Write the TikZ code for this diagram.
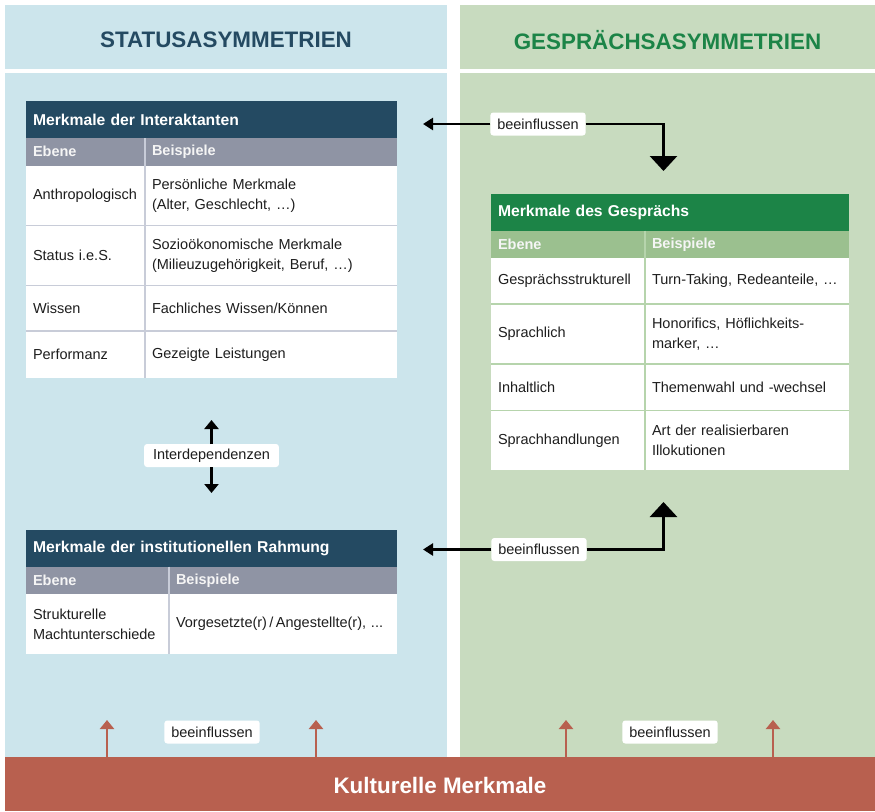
\documentclass[tikz,border=0pt]{standalone}
\usepackage{fontspec}
\setmainfont{Liberation Sans}
\usetikzlibrary{arrows.meta}
\definecolor{bluebg}{HTML}{CCE5EC}
\definecolor{greenbg}{HTML}{C8DBBF}
\definecolor{navy}{HTML}{244A62}
\definecolor{greyhdr}{HTML}{8F94A4}
\definecolor{darkgreen}{HTML}{1C8447}
\definecolor{greenhdr}{HTML}{9BC08F}
\definecolor{redbar}{HTML}{B8604F}
\definecolor{ink}{HTML}{1E1E1E}
\definecolor{sepgrey}{HTML}{C8CCD8}
\definecolor{sepgreen}{HTML}{B6D4AC}
\newcommand\fs{\fontsize{14.5}{20}\selectfont}
\newcommand\fst{\fontsize{15.7}{19}\selectfont}
\newcommand\fsh{\fontsize{22.4}{26}\selectfont}
\begin{document}
\begin{tikzpicture}[x=1pt,y=-1pt,
  every node/.style={inner sep=0pt, outer sep=0pt},
  bg/.style={anchor=north west, draw=none},
  cell/.style={anchor=north west, inner xsep=7pt, inner ysep=0pt, align=left, font=\fs, text=ink, fill=white},
  ttl/.style={cell, font=\fst\bfseries, text=white},
  hdr/.style={cell, font=\fs\bfseries, text=white!96!black},
  lbl/.style={fill=white, rounded corners=3pt, inner xsep=7pt, minimum height=23pt, font=\fs, text=ink},
  sepA/.style={draw=sepgrey, line width=1.5pt},
  sepB/.style={draw=sepgreen, line width=1.5pt},
  blk/.style={line width=2.8pt, draw=black, -{Triangle[width=12pt,length=10pt]}},
  blkbig/.style={line width=2.8pt, draw=black, -{Triangle[width=27pt,length=15pt]}},
  blkmid/.style={line width=2.8pt, draw=black, -{Triangle[width=14pt,length=9pt]}},
  redarr/.style={line width=2.5pt, draw=redbar, -{Triangle[width=14pt,length=9pt]}}
]
\useasboundingbox (0,0) rectangle (875,811);
\fill[white] (0,0) rectangle (875,811);
% backgrounds
\node[bg, fill=bluebg, minimum width=442pt, minimum height=64pt] (hL) at (5,5) {};
\node[bg, fill=greenbg, minimum width=415pt, minimum height=64pt] (hR) at (460,5) {};
\node[bg, fill=bluebg, minimum width=442pt, minimum height=684pt] (bL) at (5,73) {};
\node[bg, fill=greenbg, minimum width=415pt, minimum height=684pt] (bR) at (460,73) {};
\node[bg, fill=redbar, minimum width=870pt, minimum height=54pt] (bar) at (5,757) {};
\node[font=\fsh\bfseries, text=navy] (hLt) at (226,40) {STATUSASYMMETRIEN};
\node[font=\fsh\bfseries, text=darkgreen] (hRt) at (667.5,40) {GESPRÄCHSASYMMETRIEN};
\node[font=\fsh\bfseries, text=white] (bart) at (440,785) {Kulturelle Merkmale};

% Table 1
\node[ttl, fill=navy, text width=357pt, minimum width=371pt, minimum height=37pt] (t1) at (26,101) {Merkmale der Interaktanten};
\node[hdr, fill=greyhdr, text width=105pt, minimum width=119pt, minimum height=27.5pt] (t1ha) at (t1.south west) {Ebene};
\node[hdr, fill=greyhdr, text width=238pt, minimum width=252pt, minimum height=27.5pt] (t1hb) at (t1ha.north east) {Beispiele};
\node[cell, text width=105pt, minimum width=119pt, minimum height=60pt] (t1r1a) at (t1ha.south west) {Anthropologisch};
\node[cell, text width=238pt, minimum width=252pt, minimum height=60pt] (t1r1b) at (t1r1a.north east) {Persönliche Merkmale\\(Alter, Geschlecht, …)};
\node[cell, text width=105pt, minimum width=119pt, minimum height=60pt] (t1r2a) at (t1r1a.south west) {Status i.e.S.};
\node[cell, text width=238pt, minimum width=252pt, minimum height=60pt] (t1r2b) at (t1r2a.north east) {Sozioökonomische Merkmale\\(Milieuzugehörigkeit, Beruf, …)};
\node[cell, text width=105pt, minimum width=119pt, minimum height=45.5pt] (t1r3a) at (t1r2a.south west) {Wissen};
\node[cell, text width=238pt, minimum width=252pt, minimum height=45.5pt] (t1r3b) at (t1r3a.north east) {Fachliches Wissen/Können};
\node[cell, text width=105pt, minimum width=119pt, minimum height=46.5pt] (t1r4a) at (t1r3a.south west) {Performanz};
\node[cell, text width=238pt, minimum width=252pt, minimum height=46.5pt] (t1r4b) at (t1r4a.north east) {Gezeigte Leistungen};
\draw[sepA] (t1r1a.south west) -- (t1r1b.south east);
\draw[sepA] (t1r2a.south west) -- (t1r2b.south east);
\draw[sepA] (t1r3a.south west) -- (t1r3b.south east);
\draw[sepA] (t1hb.north west) -- (t1r4b.south west);

% Table 2
\node[ttl, fill=darkgreen, text width=344pt, minimum width=358pt, minimum height=36.5pt] (t2) at (491,194) {Merkmale des Gesprächs};
\node[hdr, fill=greenhdr, text width=140pt, minimum width=154pt, minimum height=27.5pt] (t2ha) at (t2.south west) {Ebene};
\node[hdr, fill=greenhdr, text width=190pt, minimum width=204pt, minimum height=27.5pt] (t2hb) at (t2ha.north east) {Beispiele};
\node[cell, text width=140pt, minimum width=154pt, minimum height=46pt] (t2r1a) at (t2ha.south west) {Gesprächsstrukturell};
\node[cell, text width=190pt, minimum width=204pt, minimum height=46pt] (t2r1b) at (t2r1a.north east) {Turn-Taking, Redeanteile, …};
\node[cell, text width=140pt, minimum width=154pt, minimum height=60pt] (t2r2a) at (t2r1a.south west) {Sprachlich};
\node[cell, text width=190pt, minimum width=204pt, minimum height=60pt] (t2r2b) at (t2r2a.north east) {Honorifics, Höflichkeits-\\marker, …};
\node[cell, text width=140pt, minimum width=154pt, minimum height=46.5pt] (t2r3a) at (t2r2a.south west) {Inhaltlich};
\node[cell, text width=190pt, minimum width=204pt, minimum height=46.5pt] (t2r3b) at (t2r3a.north east) {Themenwahl und -wechsel};
\node[cell, text width=140pt, minimum width=154pt, minimum height=59.5pt] (t2r4a) at (t2r3a.south west) {Sprachhandlungen};
\node[cell, text width=190pt, minimum width=204pt, minimum height=59.5pt] (t2r4b) at (t2r4a.north east) {Art der realisierbaren\\Illokutionen};
\draw[sepB] (t2r1a.south west) -- (t2r1b.south east);
\draw[sepB] (t2r2a.south west) -- (t2r2b.south east);
\draw[sepB] (t2r3a.south west) -- (t2r3b.south east);
\draw[sepB] (t2hb.north west) -- (t2r4b.south west);

% Table 3
\node[ttl, fill=navy, text width=357pt, minimum width=371pt, minimum height=36.5pt] (t3) at (26,530) {Merkmale der institutionellen Rahmung};
\node[hdr, fill=greyhdr, text width=129pt, minimum width=143pt, minimum height=27.5pt] (t3ha) at (t3.south west) {Ebene};
\node[hdr, fill=greyhdr, text width=214pt, minimum width=228pt, minimum height=27.5pt] (t3hb) at (t3ha.north east) {Beispiele};
\node[cell, text width=129pt, minimum width=143pt, minimum height=60pt] (t3r1a) at (t3ha.south west) {Strukturelle\\Machtunterschiede};
\node[cell, text width=214pt, minimum width=228pt, minimum height=60pt] (t3r1b) at (t3r1a.north east) {Vorgesetzte(r)\,/\,Angestellte(r), ...};
\draw[sepA] (t3hb.north west) -- (t3r1b.south west);

% top influence arrow
\node[lbl] (inf1) at (538,124) {beeinflussen};
\coordinate (inf1L) at (423,124);
\coordinate (inf1D) at (663.5,171);
\draw[blk] (inf1.west) -- (inf1L);
\draw[blkbig] (inf1.east) -| (inf1D);

% middle influence arrow
\node[lbl] (inf2) at (539,549.5) {beeinflussen};
\coordinate (inf2L) at (423,549.5);
\coordinate (inf2U) at (663.5,502);
\draw[blk] (inf2.west) -- (inf2L);
\draw[blkbig] (inf2.east) -| (inf2U);

% interdependencies
\node[lbl, inner xsep=9pt] (intd) at (211.5,455.5) {Interdependenzen};
\coordinate (intU) at (211.5,420);
\coordinate (intD) at (211.5,493);
\draw[blkmid] (intd.north) -- (intU);
\draw[blkmid] (intd.south) -- (intD);

% bottom influence
\node[lbl] (infb1) at (212,732) {beeinflussen};
\node[lbl] (infb2) at (670,732) {beeinflussen};
\coordinate (ra1) at (107,720);
\coordinate (ra2) at (316,720);
\coordinate (ra3) at (566,720);
\coordinate (ra4) at (773,720);
\draw[redarr] (ra1 |- bar.north) -- (ra1);
\draw[redarr] (ra2 |- bar.north) -- (ra2);
\draw[redarr] (ra3 |- bar.north) -- (ra3);
\draw[redarr] (ra4 |- bar.north) -- (ra4);
\end{tikzpicture}
\end{document}
